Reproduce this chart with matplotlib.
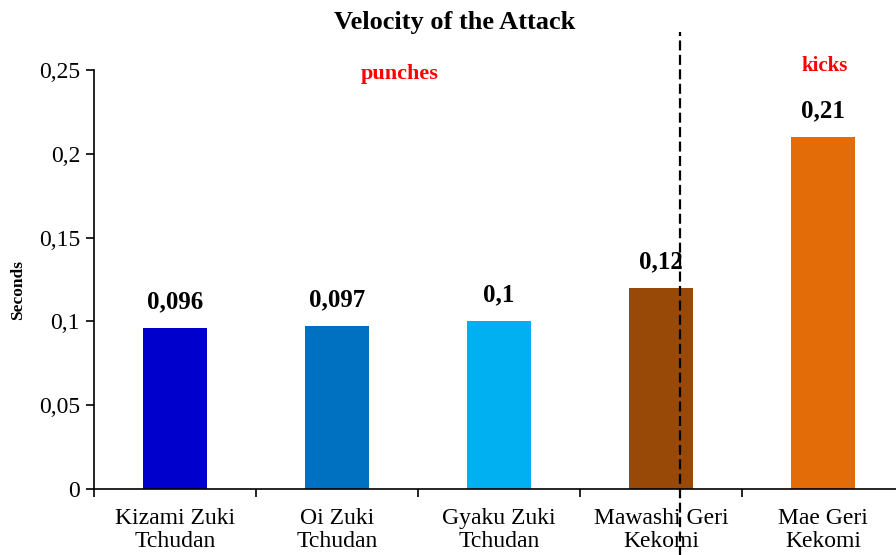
import matplotlib.pyplot as plt
from matplotlib.ticker import FixedLocator

plt.rcParams['font.family'] = ['Liberation Serif', 'DejaVu Serif']

# Data
categories = ['Kizami Zuki\nTchudan', 'Oi Zuki\nTchudan', 'Gyaku Zuki\nTchudan',
              'Mawashi Geri\nKekomi', 'Mae Geri\nKekomi']
values = [0.096, 0.097, 0.1, 0.12, 0.21]
value_labels = ['0,096', '0,097', '0,1', '0,12', '0,21']
colors = ['#0000CC', '#0070C0', '#00B0F0', '#984807', '#E36C09']
y_ticks = [0, 0.05, 0.1, 0.15, 0.2, 0.25]
y_tick_labels = ['0', '0,05', '0,1', '0,15', '0,2', '0,25']

fig = plt.figure(figsize=(8.96, 5.55), dpi=100)
ax = fig.add_axes([94 / 896, 66 / 555, 810 / 896, 419 / 555])

x = range(len(categories))
bars = ax.bar(x, values, width=0.39, color=colors)

for b, lab in zip(bars, value_labels):
    ax.annotate(lab, (b.get_x() + b.get_width() / 2, b.get_height()),
                xytext=(0, 19), textcoords='offset points',
                ha='center', va='center', fontsize=18, fontweight='bold')

ax.set_xlim(-0.5, 4.5)
ax.set_ylim(0, 0.25)
ax.set_yticks(y_ticks)
ax.set_yticklabels(y_tick_labels, fontsize=17)
ax.set_xticks(list(x))
ax.set_xticklabels(categories, fontsize=17, linespacing=1.12)
ax.tick_params(axis='x', which='major', length=0, pad=14)
ax.xaxis.set_minor_locator(FixedLocator([i - 0.5 for i in range(len(categories) + 1)]))
ax.tick_params(axis='x', which='minor', length=6, width=1.2, direction='out')
ax.tick_params(axis='y', length=6, width=1.2, direction='out', pad=4)

for s in ['top', 'right']:
    ax.spines[s].set_visible(False)
for s in ['left', 'bottom']:
    ax.spines[s].set_linewidth(1.2)

ax.set_ylabel('Seconds', fontsize=12.5, fontweight='bold')
ax.yaxis.set_label_coords(-0.084, 0.475)
fig.text(455 / 896, 1 - 22 / 555, 'Velocity of the Attack', fontsize=19,
         fontweight='bold', ha='center', va='center')

# divider between punches and kicks
ax.axvline(3.12, ymin=-0.16, ymax=1.09, color='black', linestyle=(0, (4.5, 2)),
           linewidth=1.6, clip_on=False)

ax.text(1.39, 0.2476, 'punches', color='red', fontsize=16,
        fontweight='bold', ha='center', va='center')
ax.text(4.01, 0.2524, 'kicks', color='red', fontsize=15,
        fontweight='bold', ha='center', va='center')

plt.savefig('out.png', dpi=100)
